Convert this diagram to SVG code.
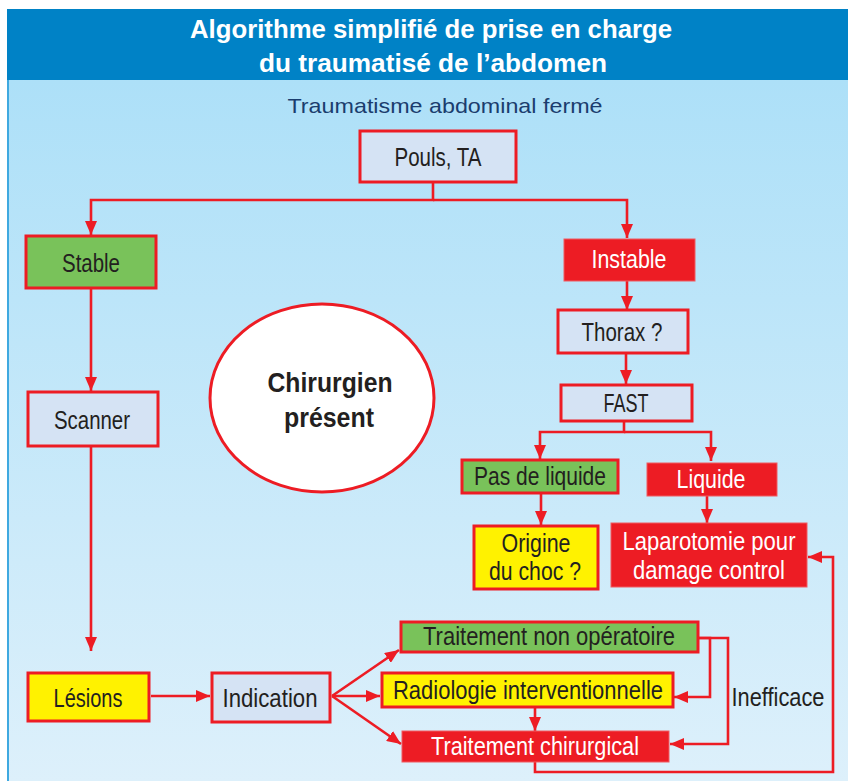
<svg xmlns="http://www.w3.org/2000/svg" width="848" height="781" viewBox="0 0 848 781">
<style>
text{font-family:"Liberation Sans",Arial,sans-serif;text-anchor:middle}
.t{font-size:26px;fill:#231F20}
.w{font-size:26px;fill:#FFFFFF}
.light{fill:#D5E3F4;stroke:#ED1C24;stroke-width:3}
.green{fill:#79C25A;stroke:#ED1C24;stroke-width:3}
.yellow{fill:#FFF200;stroke:#ED1C24;stroke-width:3}
.red{fill:#ED1C24;stroke:#F05A60;stroke-width:1}
.c{fill:none;stroke:#ED1C24;stroke-width:2.6}
.a{marker-end:url(#ah)}
</style>
<defs>
<linearGradient id="bg" x1="0" y1="0" x2="0" y2="1">
<stop offset="0" stop-color="#ADE0F8"/>
<stop offset="1" stop-color="#DDF0FB"/>
</linearGradient>
<marker id="ah" markerUnits="userSpaceOnUse" markerWidth="14" markerHeight="12" refX="14" refY="6" orient="auto" viewBox="0 0 14 12">
<path d="M0,0 L14,6 L0,12 z" fill="#ED1C24"/>
</marker>
</defs>
<rect x="0" y="0" width="848" height="781" fill="#FFFFFF"/>
<rect x="7" y="80" width="841" height="701" fill="url(#bg)"/>
<line x1="8" y1="80" x2="8" y2="781" stroke="#3FA9E0" stroke-width="2"/>
<rect x="7" y="9" width="841" height="71" fill="#0082C6"/>
<g id="title">
<text x="431" y="38" font-size="26" font-weight="bold" fill="#FFFFFF" textLength="482" lengthAdjust="spacingAndGlyphs">Algorithme simplifié de prise en charge</text>
<text x="433" y="72" font-size="26" font-weight="bold" fill="#FFFFFF" textLength="348" lengthAdjust="spacingAndGlyphs">du traumatisé de l’abdomen</text>
</g>
<g id="subtitle">
<text x="445" y="113" font-size="21" fill="#1B3D6E" textLength="315" lengthAdjust="spacingAndGlyphs">Traumatisme abdominal fermé</text>
</g>

<g id="connectors">
<path class="c a" d="M433,182 V200 H91 V235"/>
<path class="c a" d="M433,200 H627 V238"/>
<path class="c a" d="M627,281 V310"/>
<path class="c a" d="M626,353 V384"/>
<path class="c a" d="M624,421 V432 H540 V459"/>
<path class="c a" d="M624,432 H711 V461"/>
<path class="c a" d="M541,493 V525"/>
<path class="c a" d="M707,496 V523"/>
<path class="c a" d="M91,289 V391"/>
<path class="c a" d="M91,446 V651"/>
<path class="c a" d="M151,696 H210"/>
<path class="c a" d="M332,696 L399,650"/>
<path class="c a" d="M332,696 H380"/>
<path class="c a" d="M332,696 L401,744"/>
<path class="c a" d="M698,638 H710 V697 H674"/>
<path class="c a" d="M698,638 H728 V744 H670"/>
<path class="c a" d="M535,707 V731"/>
<path class="c a" d="M535,762 V772 H833 V557 H808"/>
</g>

<g id="pouls">
<rect class="light" x="360" y="131" width="156" height="51"/>
<text class="t" x="438" y="166" textLength="87" lengthAdjust="spacingAndGlyphs">Pouls, TA</text>
</g>
<g id="stable">
<rect class="green" x="26" y="236" width="130" height="52"/>
<text class="t" x="91" y="272" textLength="58" lengthAdjust="spacingAndGlyphs">Stable</text>
</g>
<g id="instable">
<rect class="red" x="564" y="239" width="131" height="42"/>
<text class="w" x="629" y="268" textLength="75" lengthAdjust="spacingAndGlyphs">Instable</text>
</g>
<g id="thorax">
<rect class="light" x="558" y="310" width="130" height="43"/>
<text class="t" x="622" y="341" textLength="81" lengthAdjust="spacingAndGlyphs">Thorax ?</text>
</g>
<g id="fast">
<rect class="light" x="561" y="385" width="131" height="36"/>
<text class="t" x="626" y="412" textLength="45" lengthAdjust="spacingAndGlyphs">FAST</text>
</g>
<g id="pas-de-liquide">
<rect class="green" x="462" y="460" width="156" height="33"/>
<text class="t" x="540" y="485" font-size="24" textLength="132" lengthAdjust="spacingAndGlyphs">Pas de liquide</text>
</g>
<g id="liquide">
<rect class="red" x="647" y="463" width="130" height="33"/>
<text class="w" x="711" y="488" font-size="24" textLength="69" lengthAdjust="spacingAndGlyphs">Liquide</text>
</g>
<g id="origine">
<rect class="yellow" x="474" y="526" width="124" height="63"/>
<text class="t" x="536" y="552" font-size="25" textLength="69" lengthAdjust="spacingAndGlyphs">Origine</text>
<text class="t" x="535" y="580" font-size="25" textLength="92" lengthAdjust="spacingAndGlyphs">du choc ?</text>
</g>
<g id="laparotomie">
<rect class="red" x="611" y="523" width="196" height="64"/>
<text class="w" x="709" y="550" font-size="25" textLength="173" lengthAdjust="spacingAndGlyphs">Laparotomie pour</text>
<text class="w" x="709" y="579" font-size="25" textLength="152" lengthAdjust="spacingAndGlyphs">damage control</text>
</g>
<g id="chirurgien">
<ellipse cx="322" cy="398" rx="112" ry="94" fill="#FFFFFF" stroke="#ED1C24" stroke-width="3"/>
<text x="330" y="392" font-size="27" font-weight="bold" fill="#231F20" textLength="125" lengthAdjust="spacingAndGlyphs">Chirurgien</text>
<text x="329" y="427" font-size="27" font-weight="bold" fill="#231F20" textLength="90" lengthAdjust="spacingAndGlyphs">présent</text>
</g>
<g id="scanner">
<rect class="light" x="28" y="392" width="130" height="54"/>
<text class="t" x="92" y="429" textLength="76" lengthAdjust="spacingAndGlyphs">Scanner</text>
</g>
<g id="lesions">
<rect class="yellow" x="28" y="673" width="121" height="48"/>
<text class="t" x="88" y="707" textLength="69" lengthAdjust="spacingAndGlyphs">Lésions</text>
</g>
<g id="indication">
<rect class="light" x="212" y="673" width="118" height="49"/>
<text class="t" x="270" y="707" textLength="95" lengthAdjust="spacingAndGlyphs">Indication</text>
</g>
<g id="traitement-non-operatoire">
<rect class="green" x="401" y="622" width="297" height="30"/>
<text class="t" x="549" y="645" font-size="25" textLength="252" lengthAdjust="spacingAndGlyphs">Traitement non opératoire</text>
</g>
<g id="radiologie">
<rect class="yellow" x="382" y="673" width="291" height="34"/>
<text class="t" x="528" y="699" font-size="25" textLength="270" lengthAdjust="spacingAndGlyphs">Radiologie interventionnelle</text>
</g>
<g id="traitement-chirurgical">
<rect class="red" x="402" y="731" width="267" height="31"/>
<text class="w" x="535" y="755" font-size="25" textLength="208" lengthAdjust="spacingAndGlyphs">Traitement chirurgical</text>
</g>
<g id="inefficace">
<text x="778" y="706" font-size="25" fill="#231F20" textLength="93" lengthAdjust="spacingAndGlyphs">Inefficace</text>
</g>
</svg>
